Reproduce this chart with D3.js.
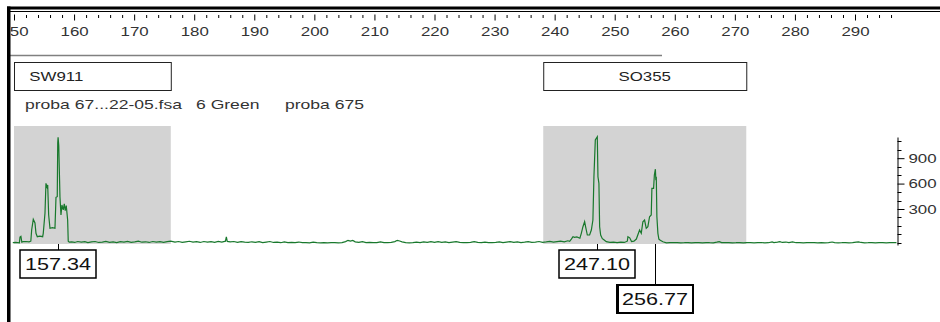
<!DOCTYPE html>
<html>
<head>
<meta charset="utf-8">
<script src="https://cdn.jsdelivr.net/npm/d3@7"></script>
<style>
  body { margin: 0; background: #fff; }
  svg { display: block; font-family: "Liberation Sans", Arial, sans-serif; }
</style>
</head>
<body>
<div id="chart"></div>
<script>
// size axis (bp) and rfu axis
var sizeTicks = [150, 160, 170, 180, 190, 200, 210, 220, 230, 240, 250, 260, 270, 280, 290];
var rfuTicks = [300, 600, 900];

// bins (the first one starts left of the visible range)
var binNames = ["SW911", "SO355"];
var binStart = [138.0, 238.1];
var binEnd = [176.1, 271.9];

// called peaks
var peakSizes = [157.34, 247.10, 256.77];
var peakRows = [0, 0, 1];

var sampleInfo = ["proba 67...22-05.fsa", "6 Green", "proba 675"];

// trace: [size bp, rfu]
var trace = [
  [149.8,-98],[150.3,-95],[150.9,-100],[151.0,-30],[151.15,-22],[151.3,-92],[151.5,-86],[152.0,-84],
  [152.5,-88],[152.8,-80],[152.94,52],[153.21,178],[153.49,135],[153.66,13],[153.88,-27],[154.3,-20],
  [154.77,-27],[154.87,13],[155.16,253],[155.32,603],[155.5,560],[155.61,583],[155.77,229],[155.99,72],
  [156.4,80],[156.82,72],[156.99,438],[157.2,445],[157.28,1080],[157.34,1146],[157.45,1050],[157.65,445],
  [157.82,229],[157.98,347],[158.2,290],[158.37,360],[158.53,280],[158.7,340],[158.93,170],[159.03,-80],
  [159.2,-92],
  [159.6,-88],[160.1,-95],[160.6,-84],[161.2,-92],[161.8,-86],[162.3,-97],[162.9,-88],[163.5,-84],
  [164.1,-95],[164.7,-90],[165.3,-82],[165.9,-93],[166.5,-89],[167.1,-96],[167.7,-85],[168.3,-91],
  [168.9,-83],[169.5,-94],[170.1,-88],[170.7,-80],[171.3,-92],[171.9,-87],[172.5,-95],[173.1,-84],
  [173.7,-90],[174.3,-86],[174.9,-94],[175.5,-85],[176.1,-80],[176.8,-90],[177.4,-84],[178.0,-93],
  [178.6,-87],[179.2,-81],[179.8,-92],[180.4,-86],[181.0,-95],[181.6,-84],[182.2,-90],[182.8,-85],
  [183.4,-93],[184.0,-82],[184.6,-90],[185.2,-80],[185.35,-30],[185.5,-82],[186.0,-88],[186.6,-84],
  [187.2,-94],[187.8,-86],[188.4,-92],[189.0,-95],[189.6,-87],[190.2,-93],[190.8,-85],[191.4,-96],
  [192.0,-90],[192.6,-84],[193.2,-95],[193.8,-92],[194.4,-98],[195.0,-88],[195.6,-96],[196.2,-93],
  [196.8,-97],[197.4,-90],[198.0,-98],[198.6,-96],[199.2,-99],[199.8,-92],[200.4,-98],[201.0,-99],
  [201.6,-97],[202.2,-99],[202.8,-98],[203.4,-97],[204.0,-99],[204.6,-96],[205.2,-85],[205.6,-70],
  [206.0,-80],[206.4,-72],[206.8,-88],[207.4,-95],[208.0,-86],[208.6,-97],[209.2,-93],[209.8,-98],
  [210.4,-96],[211.0,-88],[211.6,-96],[212.2,-98],[212.8,-95],[213.4,-85],[213.8,-70],[214.2,-78],
  [214.6,-88],[215.2,-97],[215.8,-99],[216.4,-96],[217.0,-90],[217.6,-97],[218.2,-88],[218.8,-93],
  [219.4,-85],[220.0,-95],[220.6,-86],[221.2,-94],[221.8,-88],[222.4,-96],[223.0,-90],[223.6,-85],
  [224.2,-94],[224.8,-96],[225.4,-98],[226.0,-93],[226.6,-86],[227.2,-95],[227.8,-97],[228.4,-90],
  [229.0,-96],[229.6,-98],[230.2,-94],[230.8,-88],[231.4,-96],[232.0,-90],[232.6,-85],[233.2,-94],
  [233.8,-88],[234.4,-96],[235.0,-92],[235.6,-86],[236.2,-95],[236.8,-90],[237.4,-84],[238.0,-93],
  [238.6,-88],[239.2,-82],[239.8,-90],[240.4,-85],[241.0,-80],[241.6,-88],[242.2,-75],[242.5,-82],
  [242.78,-55],[243.05,-27],[243.3,-35],[243.7,-30],[244.2,-45],[244.44,13],[244.71,91],[244.99,150],
  [245.15,91],[245.44,-7],[245.82,-7],[246.11,52],[246.37,170],[246.54,681],[246.77,1115],[247.10,1153],
  [247.21,681],[247.37,603],[247.49,91],[247.66,-7],[247.94,-50],[248.15,-60],[248.6,-86],[249.2,-95],
  [249.8,-92],[250.4,-97],[251.0,-90],[251.6,-95],[252.1,-80],[252.2,-27],[252.5,-40],[252.8,-85],
  [253.2,-80],[253.6,-55],[254.14,52],[254.42,13],[254.69,150],[254.97,170],[255.25,72],[255.52,91],
  [255.80,209],[256.08,229],[256.19,544],[256.47,544],[256.6,700],[256.77,770],[256.85,640],[256.92,681],
  [257.02,209],[257.19,13],[257.35,-55],[257.59,-70],[258.02,-86],[258.6,-100],
  [259.2,-96],[259.8,-98],[260.4,-97],[261.0,-99],[261.6,-98],[262.2,-96],[262.8,-99],[263.4,-98],
  [264.0,-97],[264.6,-99],[265.2,-96],[265.8,-98],[266.4,-99],[267.0,-92],[267.4,-85],[267.8,-96],
  [268.4,-98],[269.0,-97],[269.6,-99],[270.2,-98],[270.8,-96],[271.4,-99],[272.0,-97],[272.6,-98],
  [273.2,-99],[273.8,-96],[274.4,-97],[275.0,-99],[275.6,-98],[276.2,-88],[276.5,-96],[277.1,-92],
  [277.5,-85],[277.9,-95],[278.5,-90],[279.0,-97],[279.6,-88],[280.2,-98],[280.8,-96],[281.4,-99],
  [282.0,-97],[282.6,-98],[283.2,-96],[283.8,-99],[284.4,-97],[285.0,-99],[285.6,-98],[286.2,-90],
  [286.6,-97],[287.2,-99],[287.8,-98],[288.4,-96],[289.0,-99],[289.6,-97],[290.2,-91],[290.6,-88],
  [291.0,-95],[291.6,-99],[292.2,-98],[292.8,-96],[293.4,-99],[294.0,-97],[294.6,-98],[295.2,-99],
  [295.8,-97],[296.4,-98],[296.9,-98]
];

var W = 940, H = 322;
var plotLeft = 12, plotRight = 897;
var stretch = 1.35; // screen text is drawn wide

var x = d3.scaleLinear().domain([150, 290]).range([14, 855]);
var y = d3.scaleLinear().domain([-125, 1150]).range([245, 137]);

var svg = d3.select("#chart").append("svg")
    .attr("width", W)
    .attr("height", H);

svg.append("clipPath").attr("id", "plot")
  .append("rect")
    .attr("x", plotLeft).attr("y", 0)
    .attr("width", plotRight - plotLeft).attr("height", H);

svg.append("clipPath").attr("id", "window")
  .append("rect")
    .attr("x", 10.5).attr("y", 0)
    .attr("width", W).attr("height", H);

// wide text helper
function wide(sel, px, py) {
  sel.attr("x", 0).attr("y", 0)
     .attr("transform", function(d, i) {
       return "translate(" + px(d, i) + "," + py(d, i) + ") scale(" + stretch + ",1)";
     });
}

// size axis on top
var xAxis = d3.axisBottom(x)
    .tickValues(sizeTicks)
    .tickSize(6)
    .tickPadding(7)
    .tickFormat(d3.format("d"));

var gtop = svg.append("g").attr("clip-path", "url(#window)");

var gx = gtop.append("g")
    .attr("transform", "translate(0,14.5)")
    .call(xAxis)
    .attr("font-family", "'Liberation Sans', Arial, sans-serif")
    .attr("font-size", 12.5);
gx.select(".domain").remove();
gx.selectAll("line").attr("stroke", "#000");
gx.selectAll("text").attr("fill", "#333").attr("transform", "scale(" + stretch + ",1)");

gtop.append("g").selectAll("line")
    .data(d3.range(150, 297, 2).filter(function(d) { return d % 10 !== 0; }))
    .enter().append("line")
    .attr("x1", function(d) { return x(d) + 0.5; })
    .attr("x2", function(d) { return x(d) + 0.5; })
    .attr("y1", 15).attr("y2", 18)
    .attr("stroke", "#000");

// scroll line under the axis
svg.append("line")
    .attr("x1", 10).attr("x2", 662)
    .attr("y1", 55.5).attr("y2", 55.5)
    .attr("stroke", "#808080").attr("stroke-width", 1.5);

// bins
var bins = binNames.map(function(n, i) { return { name: n, start: binStart[i], end: binEnd[i] }; });

svg.append("g").attr("clip-path", "url(#plot)").selectAll("rect")
    .data(bins)
    .enter().append("rect")
    .attr("x", function(d) { return Math.max(x(d.start), 14); })
    .attr("width", function(d) { return x(d.end) - Math.max(x(d.start), 14); })
    .attr("y", 126).attr("height", 118)
    .attr("fill", "#d3d3d3");

var gb = svg.append("g").attr("clip-path", "url(#plot)");
gb.selectAll("rect")
    .data(bins)
    .enter().append("rect")
    .attr("x", function(d) { return Math.max(x(d.start), 14) + 0.5; })
    .attr("width", function(d) { return x(d.end) - Math.max(x(d.start), 14); })
    .attr("y", 62.5).attr("height", 28)
    .attr("fill", "#fff")
    .attr("stroke", "#222");
gb.selectAll("text")
    .data(bins)
    .enter().append("text")
    .attr("text-anchor", "middle")
    .attr("font-size", 12.5)
    .attr("fill", "#222")
    .text(function(d) { return d.name; })
    .call(wide, function(d) { return x((d.start + d.end) / 2); }, function() { return 81; });

// sample line
var infoX = [25, 196, 285];
svg.append("g").selectAll("text")
    .data(sampleInfo)
    .enter().append("text")
    .attr("font-size", 13)
    .attr("fill", "#333")
    .text(function(d) { return d; })
    .call(wide, function(d, i) { return infoX[i]; }, function() { return 109; });

// trace
var line = d3.line()
    .x(function(d) { return x(d[0]); })
    .y(function(d) { return y(d[1]); });

svg.append("path")
    .datum(trace)
    .attr("clip-path", "url(#plot)")
    .attr("d", line)
    .attr("fill", "none")
    .attr("stroke", "#18782c")
    .attr("stroke-width", 1.2);

// rfu axis on the right
var yAxis = d3.axisRight(y)
    .tickValues(rfuTicks)
    .tickSize(7)
    .tickSizeOuter(0)
    .tickPadding(3);

var gy = svg.append("g")
    .attr("transform", "translate(" + (plotRight + 0.5) + ",0)")
    .call(yAxis)
    .attr("font-family", "'Liberation Sans', Arial, sans-serif")
    .attr("font-size", 12.5);
gy.select(".domain").attr("stroke", "#000");
gy.selectAll("line").attr("stroke", "#000");
gy.selectAll(".tick text")
    .attr("fill", "#333")
    .attr("x", 0)
    .attr("transform", "translate(11,0) scale(" + stretch + ",1)");

gy.append("g").selectAll("line")
    .data(d3.range(-100, 1101, 100).filter(function(d) { return rfuTicks.indexOf(d) < 0; }))
    .enter().append("line")
    .attr("x1", 0).attr("x2", 4)
    .attr("y1", function(d) { return Math.round(y(d)) + 0.5; })
    .attr("y2", function(d) { return Math.round(y(d)) + 0.5; })
    .attr("stroke", "#000");

// peak labels
var rowTop = [250, 285];
var gp = svg.append("g").selectAll("g")
    .data(peakSizes)
    .enter().append("g");

gp.append("line")
    .attr("x1", function(d) { return Math.round(x(d)) + 0.5; })
    .attr("x2", function(d) { return Math.round(x(d)) + 0.5; })
    .attr("y1", 244)
    .attr("y2", function(d, i) { return rowTop[peakRows[i]]; })
    .attr("stroke", "#000");

gp.append("rect")
    .attr("x", function(d) { return Math.round(x(d)) - 38; })
    .attr("y", function(d, i) { return rowTop[peakRows[i]]; })
    .attr("width", 76).attr("height", 28)
    .attr("fill", "#fff")
    .attr("stroke", "#000")
    .attr("stroke-width", function(d, i) { return peakRows[i] ? 2 : 1.5; });

// the lower (selected) label has a heavier left edge
gp.filter(function(d, i) { return peakRows[i] === 1; })
  .append("line")
    .attr("x1", function(d) { return Math.round(x(d)) - 37; })
    .attr("x2", function(d) { return Math.round(x(d)) - 37; })
    .attr("y1", function(d) { return rowTop[1]; })
    .attr("y2", function(d) { return rowTop[1] + 28; })
    .attr("stroke", "#000")
    .attr("stroke-width", 2);

gp.append("text")
    .attr("text-anchor", "middle")
    .attr("font-size", 16)
    .attr("fill", "#111")
    .text(function(d) { return d.toFixed(2); })
    .call(wide, function(d) { return Math.round(x(d)); },
                function(d, i) { return rowTop[peakRows[i]] + 20; });

// window frame
svg.append("rect").attr("x", 7).attr("y", 6.5).attr("width", W - 7).attr("height", 3).attr("fill", "#000");
svg.append("rect").attr("x", 7).attr("y", 6.5).attr("width", 3.5).attr("height", H).attr("fill", "#000");
svg.append("line").attr("x1", 10).attr("x2", W).attr("y1", 11.5).attr("y2", 11.5).attr("stroke", "#000");
</script>
</body>
</html>
